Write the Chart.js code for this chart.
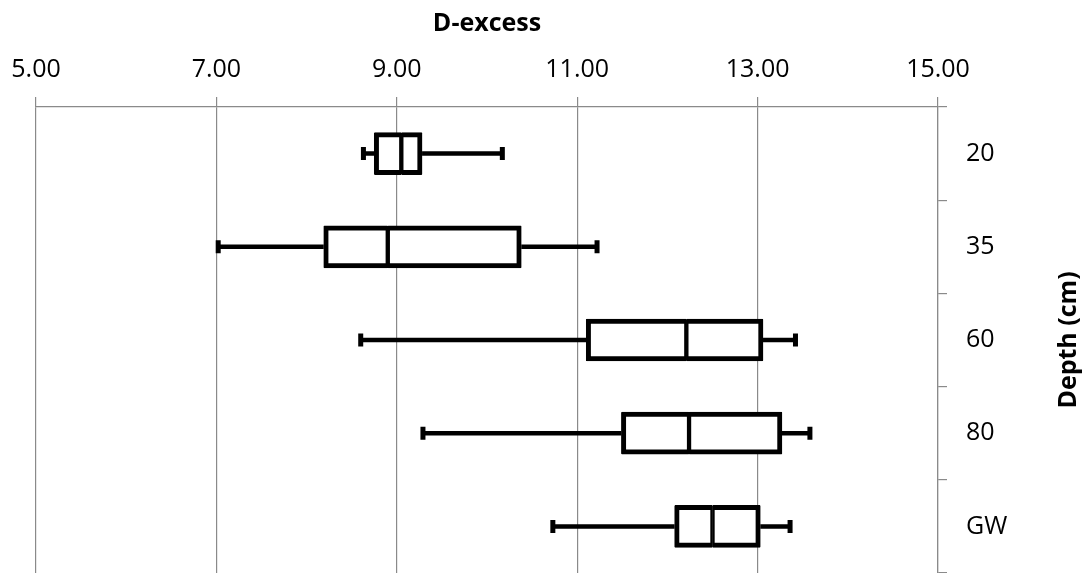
<!DOCTYPE html>
<html>
<head>
<meta charset="utf-8">
<script src="https://cdn.jsdelivr.net/npm/chart.js@4/dist/chart.umd.min.js"></script>
<style>
  html, body { margin: 0; padding: 0; background: #fff; }
  #wrap { width: 1086px; height: 573px; position: relative; }
</style>
</head>
<body>
<div id="wrap"><canvas id="chart"></canvas></div>
<script>
// depth classes and the five-number summary for each one
const depths = ['20', '35', '60', '80', 'GW']
const minVals = [8.63, 7.02, 8.60, 9.29, 10.73]
const q1Vals = [8.75, 8.19, 11.10, 11.49, 12.08]
const medVals = [9.05, 8.90, 12.21, 12.24, 12.50]
const q3Vals = [9.28, 10.38, 13.06, 13.27, 13.03]
const maxVals = [10.17, 11.22, 13.42, 13.58, 13.36]

const xTicks = [5, 7, 9, 11, 13, 15]

const FONT = '"Open Sans", "DejaVu Sans", sans-serif'
const GRID = '#8a8a8a'

// whiskers and end caps, drawn under the boxes
const whiskers = {
  id: 'whiskers',
  beforeDatasetsDraw(chart) {
    const { ctx, scales: { x, y } } = chart
    ctx.save()
    ctx.strokeStyle = '#000'
    depths.forEach((d, i) => {
      const py = y.getPixelForValue(i)
      const xmin = x.getPixelForValue(minVals[i])
      const xmax = x.getPixelForValue(maxVals[i])
      ctx.lineWidth = 4.5
      ctx.beginPath()
      ctx.moveTo(xmin, py)
      ctx.lineTo(x.getPixelForValue(q1Vals[i]), py)
      ctx.moveTo(x.getPixelForValue(q3Vals[i]), py)
      ctx.lineTo(xmax, py)
      ctx.stroke()
      ctx.lineWidth = 5
      ctx.beginPath()
      ctx.moveTo(xmin, py - 6.5)
      ctx.lineTo(xmin, py + 6.5)
      ctx.moveTo(xmax, py - 6.5)
      ctx.lineTo(xmax, py + 6.5)
      ctx.stroke()
    })
    ctx.restore()
  }
}

// rotated right-hand axis title, reads bottom to top
const depthTitle = {
  id: 'depthTitle',
  afterDraw(chart) {
    const { ctx, chartArea } = chart
    ctx.save()
    ctx.translate(1069, (chartArea.top + chartArea.bottom) / 2)
    ctx.rotate(-Math.PI / 2)
    ctx.font = 'bold 25px ' + FONT
    ctx.fillStyle = '#000'
    ctx.textAlign = 'center'
    ctx.textBaseline = 'middle'
    ctx.fillText('Depth (cm)', 0, 0)
    ctx.restore()
  }
}

const boxStyle = {
  backgroundColor: '#fff',
  borderColor: '#000',
  borderSkipped: false,
  borderRadius: 1,
  barThickness: 42,
  grouped: false
}

new Chart(document.getElementById('chart'), {
  type: 'bar',
  data: {
    labels: depths,
    datasets: [
      {
        ...boxStyle,
        label: 'lower',
        data: depths.map((d, i) => [q1Vals[i], medVals[i]]),
        borderWidth: { top: 5, bottom: 5, left: 5, right: 2.5 }
      },
      {
        ...boxStyle,
        label: 'upper',
        data: depths.map((d, i) => [medVals[i], q3Vals[i]]),
        borderWidth: { top: 5, bottom: 5, left: 2.5, right: 5 }
      }
    ]
  },
  plugins: [whiskers, depthTitle],
  options: {
    indexAxis: 'y',
    responsive: true,
    maintainAspectRatio: false,
    animation: false,
    layout: { padding: { left: 36, right: 0, top: 0, bottom: 0 } },
    plugins: {
      legend: { display: false },
      tooltip: { enabled: false }
    },
    scales: {
      x: {
        position: 'top',
        min: 5,
        max: 15,
        afterBuildTicks: s => { s.ticks = xTicks.map(v => ({ value: v })) },
        afterFit: s => {
          s.height = 107
          s.paddingLeft = 0
          s.paddingRight = 0
        },
        ticks: {
          color: '#000',
          padding: 12,
          font: { family: FONT, size: 25 },
          callback: v => Number(v).toFixed(2)
        },
        grid: { color: GRID, lineWidth: 1.2, tickLength: 10 },
        border: { color: GRID, width: 1.2 },
        title: {
          display: true,
          text: 'D-excess',
          color: '#000',
          font: { family: FONT, size: 25, weight: 'bold' },
          padding: { top: 9, bottom: 0 }
        }
      },
      y: {
        position: 'right',
        offset: true,
        afterFit: s => {
          s.width = 148
          s.paddingTop = 0
          s.paddingBottom = 0
        },
        ticks: {
          color: '#000',
          padding: 19,
          font: { family: FONT, size: 25 }
        },
        grid: { offset: true, drawOnChartArea: false, color: GRID, lineWidth: 1.2, tickLength: 9 },
        border: { color: GRID, width: 1.2 }
      }
    }
  }
})
</script>
</body>
</html>
